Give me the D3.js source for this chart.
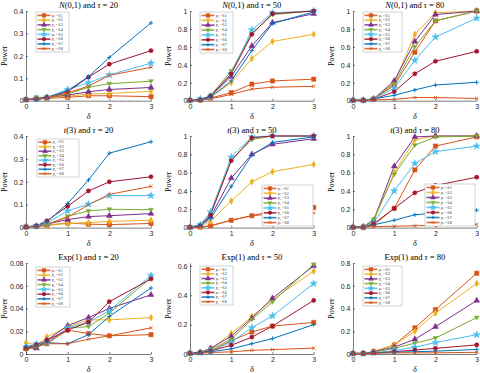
<!DOCTYPE html>
<html>
<head>
<meta charset="utf-8">
<script src="https://cdn.jsdelivr.net/npm/d3@7"></script>
<style>
  body { margin: 0; background: #fff; }
  svg { display: block; }
  .tick-label { font-family: "Liberation Sans", Arial, sans-serif; font-size: 7px; fill: #262626; }
  .title, .ylabel, .xlabel { font-family: "Liberation Serif", "DejaVu Serif", serif; fill: #000; }
  .legend text { font-family: "Liberation Serif", serif; font-size: 3.4px; fill: #000; }
</style>
</head>
<body>
<div id="chart"></div>
<script>
var width = 480, height = 373;

// shared x values and series labels
var deltas = [0, 0.25, 0.5, 1, 1.5, 2, 3];
var pLabels = ["0.1", "0.2", "0.3", "0.4", "0.5", "0.6", "0.7", "0.8"];

// power values, one row per p0
var normal20 = [
  [0.005, 0.008, 0.010, 0.015, 0.022, 0.022, 0.018],
  [0.005, 0.010, 0.012, 0.020, 0.030, 0.032, 0.042],
  [0.005, 0.010, 0.015, 0.025, 0.040, 0.050, 0.059],
  [0.005, 0.015, 0.015, 0.030, 0.060, 0.076, 0.087],
  [0.005, 0.010, 0.015, 0.050, 0.080, 0.115, 0.167],
  [0.005, 0.008, 0.015, 0.040, 0.105, 0.163, 0.223],
  [0.005, 0.005, 0.012, 0.045, 0.107, 0.193, 0.347],
  [0.005, 0.008, 0.012, 0.035, 0.065, 0.113, 0.149]
];
var normal50 = [
  [0.005, 0.005, 0.030, 0.090, 0.185, 0.220, 0.240],
  [0.005, 0.010, 0.040, 0.200, 0.470, 0.660, 0.740],
  [0.005, 0.010, 0.050, 0.270, 0.610, 0.870, 0.970],
  [0.005, 0.010, 0.060, 0.330, 0.750, 0.960, 1.000],
  [0.005, 0.020, 0.050, 0.300, 0.790, 0.980, 1.000],
  [0.005, 0.010, 0.050, 0.300, 0.740, 0.970, 1.000],
  [0.005, 0.010, 0.040, 0.220, 0.560, 0.860, 0.990],
  [0.005, 0.005, 0.020, 0.070, 0.130, 0.150, 0.160]
];
var normal80 = [
  [0.005, 0.005, 0.020, 0.170, 0.540, 0.890, 1.000],
  [0.005, 0.005, 0.020, 0.200, 0.740, 0.980, 1.000],
  [0.005, 0.005, 0.020, 0.220, 0.660, 0.960, 1.000],
  [0.005, 0.005, 0.020, 0.190, 0.600, 0.890, 1.000],
  [0.005, 0.005, 0.020, 0.140, 0.450, 0.710, 0.920],
  [0.005, 0.005, 0.015, 0.100, 0.300, 0.440, 0.550],
  [0.005, 0.005, 0.020, 0.060, 0.120, 0.175, 0.205],
  [0.005, 0.005, 0.010, 0.015, 0.035, 0.035, 0.025]
];
var t20 = [
  [0.003, 0.005, 0.010, 0.020, 0.015, 0.013, 0.018],
  [0.003, 0.005, 0.010, 0.018, 0.022, 0.027, 0.032],
  [0.003, 0.005, 0.015, 0.035, 0.048, 0.052, 0.061],
  [0.003, 0.005, 0.010, 0.050, 0.073, 0.080, 0.078],
  [0.003, 0.008, 0.020, 0.073, 0.102, 0.140, 0.140],
  [0.003, 0.008, 0.030, 0.093, 0.160, 0.200, 0.222],
  [0.003, 0.008, 0.025, 0.105, 0.208, 0.325, 0.375],
  [0.003, 0.005, 0.015, 0.045, 0.100, 0.145, 0.180]
];
var t50 = [
  [0.005, 0.005, 0.020, 0.080, 0.130, 0.180, 0.220],
  [0.005, 0.010, 0.070, 0.290, 0.500, 0.610, 0.690],
  [0.005, 0.020, 0.120, 0.540, 0.800, 0.910, 0.970],
  [0.005, 0.030, 0.160, 0.740, 0.960, 1.000, 1.000],
  [0.005, 0.030, 0.170, 0.770, 0.990, 1.000, 1.000],
  [0.005, 0.020, 0.140, 0.730, 0.980, 1.000, 1.000],
  [0.005, 0.020, 0.100, 0.450, 0.790, 0.930, 0.990],
  [0.005, 0.005, 0.020, 0.080, 0.130, 0.150, 0.160]
];
var t80 = [
  [0.005, 0.005, 0.030, 0.210, 0.630, 0.890, 0.990],
  [0.005, 0.005, 0.070, 0.600, 0.960, 1.000, 1.000],
  [0.005, 0.010, 0.080, 0.670, 0.990, 1.000, 1.000],
  [0.005, 0.010, 0.090, 0.580, 0.900, 0.990, 1.000],
  [0.005, 0.005, 0.050, 0.400, 0.700, 0.830, 0.890],
  [0.005, 0.005, 0.040, 0.210, 0.380, 0.460, 0.550],
  [0.005, 0.005, 0.030, 0.080, 0.140, 0.160, 0.190],
  [0.005, 0.005, 0.010, 0.015, 0.020, 0.025, 0.035]
];
var exp20 = [
  [0.005, 0.007, 0.009, 0.021, 0.018, 0.016, 0.017],
  [0.010, 0.008, 0.015, 0.024, 0.030, 0.030, 0.032],
  [0.005, 0.005, 0.012, 0.025, 0.032, 0.040, 0.052],
  [0.004, 0.006, 0.009, 0.023, 0.024, 0.036, 0.067],
  [0.006, 0.009, 0.010, 0.023, 0.028, 0.038, 0.069],
  [0.005, 0.008, 0.012, 0.021, 0.028, 0.046, 0.066],
  [0.007, 0.007, 0.010, 0.009, 0.017, 0.033, 0.058],
  [0.004, 0.007, 0.009, 0.009, 0.013, 0.016, 0.023]
];
var exp50 = [
  [0.005, 0.010, 0.020, 0.090, 0.150, 0.190, 0.215],
  [0.005, 0.015, 0.030, 0.140, 0.255, 0.370, 0.565],
  [0.005, 0.010, 0.040, 0.120, 0.245, 0.380, 0.600],
  [0.005, 0.010, 0.030, 0.100, 0.235, 0.355, 0.610],
  [0.005, 0.010, 0.020, 0.080, 0.180, 0.260, 0.480],
  [0.005, 0.010, 0.020, 0.060, 0.115, 0.190, 0.365],
  [0.005, 0.010, 0.015, 0.035, 0.070, 0.105, 0.200],
  [0.005, 0.005, 0.010, 0.015, 0.025, 0.030, 0.040]
];
var exp80 = [
  [0.005, 0.005, 0.020, 0.080, 0.230, 0.390, 0.710],
  [0.005, 0.005, 0.020, 0.080, 0.200, 0.360, 0.620],
  [0.005, 0.005, 0.020, 0.060, 0.130, 0.240, 0.470],
  [0.005, 0.005, 0.015, 0.050, 0.095, 0.140, 0.320],
  [0.005, 0.005, 0.010, 0.030, 0.060, 0.100, 0.170],
  [0.005, 0.005, 0.010, 0.020, 0.035, 0.050, 0.080],
  [0.005, 0.005, 0.010, 0.015, 0.020, 0.025, 0.040],
  [0.005, 0.005, 0.005, 0.010, 0.010, 0.010, 0.015]
];

var yTicks = {
  small: [0, 0.1, 0.2, 0.3, 0.4],
  unit: [0, 0.2, 0.4, 0.6, 0.8, 1],
  exp20: [0, 0.02, 0.04, 0.06, 0.08],
  exp50: [0, 0.2, 0.4, 0.6],
  exp80: [0, 0.2, 0.4, 0.6, 0.8]
};

// MATLAB default colour order
var colors = ["#D95319", "#EDB120", "#7E2F8E", "#77AC30", "#4DBEEE", "#A2142F", "#0072BD", "#D95319"];
var markers = ["square", "diamond", "up", "down", "star", "hex", "plus", "times"];

var colLeft = [26, 190, 353], colRight = [151, 313.7, 476.7];
var rowTop = [11, 136, 263], rowBottom = [100.7, 227.6, 354];

var panels = [
  {dist: "N", tau: 20, data: normal20, ymax: 0.4, ticks: yTicks.small, legend: [36, 12, 33, 40]},
  {dist: "N", tau: 50, data: normal50, ymax: 1, ticks: yTicks.unit, legend: [200, 12, 33, 41]},
  {dist: "N", tau: 80, data: normal80, ymax: 1, ticks: yTicks.unit, legend: [363, 12, 39, 40]},
  {dist: "t", tau: 20, data: t20, ymax: 0.4, ticks: yTicks.small, legend: [37, 139, 42, 38]},
  {dist: "t", tau: 50, data: t50, ymax: 1, ticks: yTicks.unit, legend: [262, 185, 51, 41]},
  {dist: "t", tau: 80, data: t80, ymax: 1, ticks: yTicks.unit, legend: [425, 184, 50, 42]},
  {dist: "E", tau: 20, data: exp20, ymax: 0.08, ticks: yTicks.exp20, legend: [36, 267, 34, 40]},
  {dist: "E", tau: 50, data: exp50, ymax: 0.62, ticks: yTicks.exp50, legend: [200, 266, 33, 39]},
  {dist: "E", tau: 80, data: exp80, ymax: 0.8, ticks: yTicks.exp80, legend: [363, 266, 39, 40]}
];

var svg = d3.select("#chart").append("svg")
    .attr("width", width)
    .attr("height", height);

function markerPath(type, s) {
  var r = s / 2;
  if (type == "square") return d3.symbol(d3.symbolSquare, s * s)();
  if (type == "diamond") return d3.symbol(d3.symbolDiamond, s * s * 0.7)();
  if (type == "up") return d3.symbol(d3.symbolTriangle, s * s * 0.8)();
  if (type == "down") return "M" + (-r * 1.1) + "," + (-r * 0.7) + "L" + (r * 1.1) + "," + (-r * 0.7) + "L0," + (r * 1.1) + "Z";
  if (type == "star") return d3.symbol(d3.symbolStar, s * s * 0.9)();
  if (type == "hex") return d3.symbol(d3.symbolCircle, s * s * 0.75)();
  if (type == "plus") return "M" + (-r) + ",0L" + r + ",0M0," + (-r) + "L0," + r;
  if (type == "times") return "M" + (-r * 0.75) + "," + (-r * 0.75) + "L" + (r * 0.75) + "," + (r * 0.75) +
      "M" + (-r * 0.75) + "," + (r * 0.75) + "L" + (r * 0.75) + "," + (-r * 0.75);
  return "";
}

function drawMarker(g, type, color, x, y, s) {
  var open = type == "plus" || type == "times";
  g.append("path")
      .attr("d", markerPath(type, s))
      .attr("transform", "translate(" + x + "," + y + ")")
      .attr("fill", open ? "none" : color)
      .attr("stroke", color)
      .attr("stroke-width", open ? 0.9 : 0.5);
}

function fmt(v) {
  return v === 0 ? "0" : String(+v.toFixed(2));
}

panels.forEach(function(p, i) {
  var col = i % 3, row = Math.floor(i / 3);
  var x = d3.scaleLinear().domain([0, 3]).range([colLeft[col], colRight[col]]);
  var y = d3.scaleLinear().domain([0, p.ymax]).range([rowBottom[row], rowTop[row]]);
  var g = svg.append("g");

  // axes (MATLAB style, ticks pointing inward)
  var xAxis = d3.axisBottom(x).tickValues([0, 1, 2, 3]).tickSizeInner(-2).tickSizeOuter(0).tickPadding(4).tickFormat(fmt);
  var yAxis = d3.axisLeft(y).tickValues(p.ticks).tickSizeInner(-2).tickSizeOuter(0).tickPadding(4).tickFormat(fmt);

  var gx = g.append("g").attr("transform", "translate(0," + rowBottom[row] + ")").call(xAxis);
  var gy = g.append("g").attr("transform", "translate(" + colLeft[col] + ",0)").call(yAxis);
  [gx, gy].forEach(function(a) {
    a.select(".domain").attr("stroke", "#262626").attr("stroke-width", 0.6);
    a.selectAll(".tick line").attr("stroke", "#262626").attr("stroke-width", 0.6);
    a.selectAll(".tick text").attr("class", "tick-label").attr("font-size", null).attr("font-family", null);
  });
  gx.selectAll(".tick text").attr("dy", "0.71em").attr("y", 3.5);
  gy.selectAll(".tick text").attr("x", -2.5);

  // series
  var line = d3.line()
      .x(function(d, j) { return x(deltas[j]); })
      .y(function(d) { return y(d); });

  p.data.forEach(function(vals, k) {
    g.append("path")
        .datum(vals)
        .attr("d", line)
        .attr("fill", "none")
        .attr("stroke", colors[k])
        .attr("stroke-width", 1);
  });
  p.data.forEach(function(vals, k) {
    vals.forEach(function(v, j) {
      drawMarker(g, markers[k], colors[k], x(deltas[j]), y(v), 4.3);
    });
  });

  // title
  var cx = (colLeft[col] + colRight[col]) / 2;
  var title = g.append("text").attr("class", "title")
      .attr("x", cx).attr("y", rowTop[row] - 3.5)
      .attr("text-anchor", "middle").attr("font-size", 8.5);
  if (p.dist == "N") {
    title.append("tspan").attr("font-style", "italic").text("N");
    title.append("tspan").text("(0,1) and ");
  } else if (p.dist == "t") {
    title.append("tspan").attr("font-style", "italic").text("t");
    title.append("tspan").text("(3) and ");
  } else {
    title.append("tspan").text("Exp(1) and ");
  }
  title.append("tspan").attr("font-style", "italic").text("τ");
  title.append("tspan").text(" = " + p.tau);

  // axis labels
  g.append("text").attr("class", "xlabel")
      .attr("x", cx).attr("y", rowBottom[row] + 18)
      .attr("text-anchor", "middle").attr("font-size", 8).attr("font-style", "italic")
      .text("δ");
  var ly = (rowTop[row] + rowBottom[row]) / 2;
  var lx = colLeft[col] - 19;
  g.append("text").attr("class", "ylabel")
      .attr("transform", "translate(" + lx + "," + ly + ") rotate(-90)")
      .attr("text-anchor", "middle").attr("font-size", 8)
      .text("Power");

  // legend
  var L = p.legend;
  var lg = g.append("g").attr("class", "legend");
  lg.append("rect")
      .attr("x", L[0]).attr("y", L[1]).attr("width", L[2]).attr("height", L[3])
      .attr("fill", "#fff").attr("stroke", "#a6a6a6").attr("stroke-width", 0.5);
  var step = (L[3] - 2) / 8;
  pLabels.forEach(function(lab, k) {
    var yy = L[1] + 1 + step * (k + 0.5);
    lg.append("line")
        .attr("x1", L[0] + 1.5).attr("x2", L[0] + 14.5)
        .attr("y1", yy).attr("y2", yy)
        .attr("stroke", colors[k]).attr("stroke-width", 1.6).attr("stroke-opacity", 0.85);
    drawMarker(lg, markers[k], colors[k], L[0] + 8, yy, 3.6);
    var t = lg.append("text").attr("x", L[0] + 16).attr("y", yy + 1.2);
    t.append("tspan").attr("font-style", "italic").text("p");
    t.append("tspan").attr("font-size", 2.4).attr("dy", 0.7).text("0");
    t.append("tspan").attr("dy", -0.7).text(" = " + lab);
  });
});
</script>
</body>
</html>
